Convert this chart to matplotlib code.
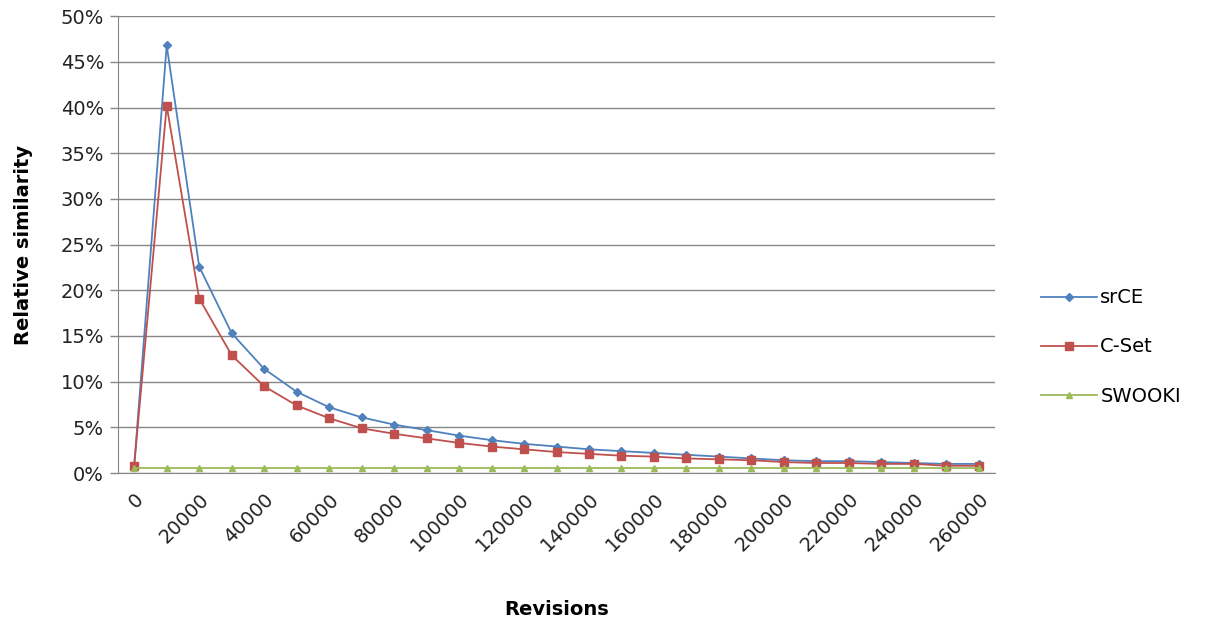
import matplotlib.pyplot as plt
from matplotlib.ticker import PercentFormatter

revisions = [0, 10000, 20000, 30000, 40000, 50000, 60000, 70000, 80000, 90000,
             100000, 110000, 120000, 130000, 140000, 150000, 160000, 170000, 180000,
             190000, 200000, 210000, 220000, 230000, 240000, 250000, 260000]

srce = [0.8, 46.8, 22.6, 15.3, 11.4, 8.9, 7.2, 6.1, 5.3, 4.7, 4.1, 3.6, 3.2, 2.9,
        2.6, 2.4, 2.2, 2.0, 1.8, 1.6, 1.4, 1.3, 1.3, 1.2, 1.1, 1.0, 1.0]
cset = [0.8, 40.2, 19.1, 12.9, 9.5, 7.4, 6.0, 4.9, 4.3, 3.8, 3.3, 2.9, 2.6, 2.3,
        2.1, 1.9, 1.8, 1.6, 1.5, 1.4, 1.2, 1.1, 1.1, 1.0, 1.0, 0.8, 0.8]
swooki = [0.6] * 27

series_names = ['srCE', 'C-Set', 'SWOOKI']

fig = plt.figure(figsize=(12.11, 6.2), dpi=100)
ax = fig.add_axes([0.0974, 0.237, 0.7243, 0.737])

idx = list(range(len(revisions)))
ax.plot(idx, srce, color='#4F81BD', marker='D', markersize=4, lw=1.3, label=series_names[0])
ax.plot(idx, cset, color='#C0504D', marker='s', markersize=6, lw=1.3, label=series_names[1])
ax.plot(idx, swooki, color='#9BBB59', marker='^', markersize=5, lw=1.3, label=series_names[2])

ax.set_xlim(-0.5, len(revisions) - 0.5)
ax.set_ylim(0, 50)
ax.set_yticks(range(0, 51, 5))
ax.yaxis.set_major_formatter(PercentFormatter(decimals=0))
ax.set_xticks(idx[::2])
ax.set_xticklabels([str(r) for r in revisions[::2]], rotation=45, ha='right',
                   rotation_mode='anchor')
ax.tick_params(axis='x', length=0, pad=12, labelsize=14, colors='#222222')
ax.tick_params(axis='y', length=6, width=1, color='#888888', labelsize=14,
               colors='#222222', pad=4)

ax.yaxis.grid(True, color='#868686', lw=1)
ax.set_axisbelow(True)
for s in ['top', 'right']:
    ax.spines[s].set_visible(False)
for s in ['left', 'bottom']:
    ax.spines[s].set_color('#868686')

ax.set_ylabel('Relative similarity', fontsize=14, fontweight='bold', labelpad=20)
ax.set_xlabel('Revisions', fontsize=14, fontweight='bold', labelpad=32)

fig.legend(loc='center left', bbox_to_anchor=(1041 / 1211, 1 - 347 / 620),
           frameon=False, fontsize=14, labelspacing=1.55, handlelength=2.9,
           handletextpad=0.15, borderpad=0, borderaxespad=0)

fig.savefig('out.png', dpi=100)
